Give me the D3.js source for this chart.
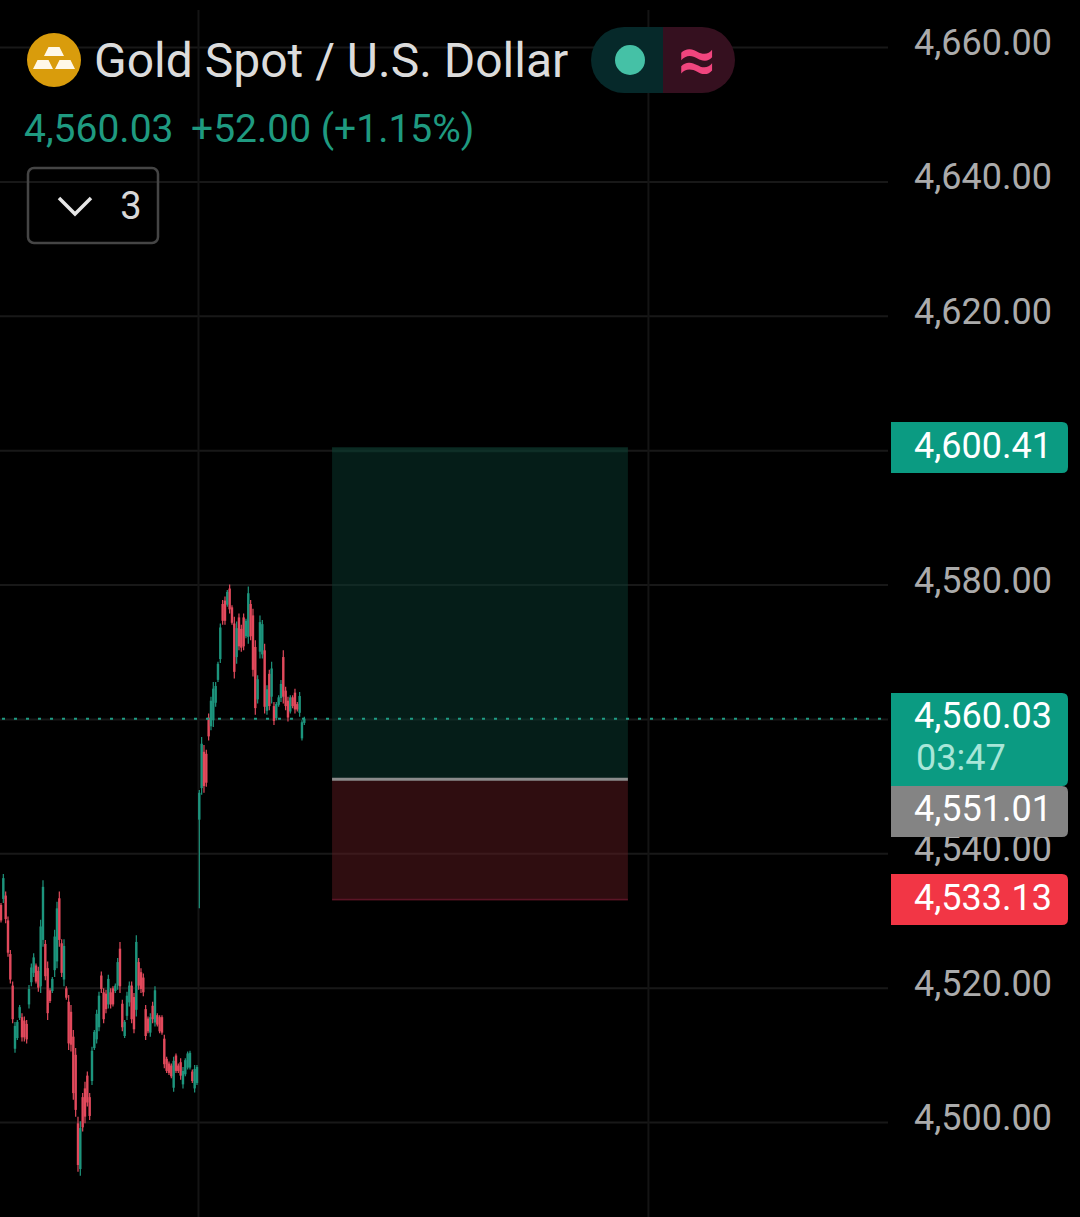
<!DOCTYPE html>
<html><head><meta charset="utf-8">
<style>html,body{margin:0;padding:0;background:#000}svg{display:block}text{font-family:Roboto,sans-serif}</style>
<script src="https://cdn.jsdelivr.net/npm/d3@7"></script></head><body>
<script>
const title="Gold Spot / U.S. Dollar";
const lastPrice="4,560.03", change="+52.00 (+1.15%)", countdown="03:47", hiddenCount="3";
const priceTicks=[4500,4520,4540,4560,4580,4600,4620,4640,4660];
const highs=[4532.6,4536.9,4534.3,4530.6,4525.6,4520.9,4514.9,4515.2,4517.4,4516.2,4515.7,4515.2,4520.4,4523.6,4525.1,4523.6,4523.1,4530.1,4536.0,4527.1,4523.9,4519.9,4521.6,4528.6,4532.8,4534.3,4527.2,4527.2,4520.2,4518.9,4517.4,4513.7,4511.0,4500.8,4500.1,4504.3,4506.0,4507.5,4504.3,4511.2,4513.7,4516.7,4519.4,4522.4,4519.9,4519.7,4521.9,4519.9,4520.2,4520.6,4524.4,4526.8,4518.2,4515.2,4519.4,4520.9,4520.9,4519.2,4527.8,4524.4,4522.9,4522.1,4517.4,4515.7,4516.2,4517.9,4520.2,4516.2,4515.9,4515.9,4513.0,4509.7,4509.0,4508.7,4509.7,4510.2,4508.7,4509.5,4508.2,4509.5,4510.5,4510.6,4507.8,4508.5,4508.5,
4549.4,4557.3,4556.1,4555.4,4560.8,4563.3,4565.5,4565.5,4568.5,4574.2,4577.7,4578.2,4579.2,4580.0,4576.9,4575.2,4574.5,4575.7,4574.0,4575.7,4574.9,4579.7,4577.7,4576.4,4571.7,4566.5,4575.4,4574.7,4571.2,4565.0,4567.3,4568.5,4562.5,4562.5,4563.5,4565.8,4570.2,4564.8,4563.3,4563.5,4563.5,4564.5,4562.5,4564.0,4559.8,4560.3];
const lows=[4529.7,4532.6,4529.6,4524.6,4520.6,4514.7,4510.3,4512.2,4515.2,4512.0,4512.0,4511.7,4516.9,4520.2,4521.6,4520.6,4519.4,4519.2,4526.1,4521.1,4515.2,4517.7,4519.2,4521.6,4522.9,4526.1,4521.6,4520.2,4518.2,4510.7,4510.5,4503.3,4500.8,4492.6,4492.0,4498.6,4499.8,4502.3,4500.3,4505.5,4510.7,4511.7,4513.5,4519.2,4514.7,4516.2,4516.9,4516.9,4517.2,4519.2,4519.7,4519.2,4513.5,4512.5,4515.2,4517.2,4514.7,4513.2,4515.7,4519.7,4519.2,4518.7,4512.2,4513.2,4512.7,4514.7,4514.2,4514.2,4513.2,4513.0,4508.0,4507.3,4507.0,4506.5,4504.5,4507.3,4507.3,4506.3,4505.0,4506.8,4507.8,4507.8,4505.8,4504.4,4505.5,
4531.8,4548.7,4549.0,4549.9,4556.8,4558.3,4558.8,4561.8,4565.5,4568.3,4574.0,4574.0,4576.7,4575.7,4574.0,4566.0,4568.2,4570.2,4570.0,4570.2,4572.0,4571.2,4571.7,4566.3,4560.6,4562.3,4569.0,4569.0,4560.8,4560.6,4561.3,4562.3,4559.1,4559.8,4561.8,4562.5,4562.3,4561.3,4559.6,4560.8,4561.6,4560.8,4561.1,4560.3,4556.8,4559.1];
const opens=[4532.3,4533.2,4533.7,4530.0,4525.0,4520.3,4510.9,4512.5,4515.5,4515.6,4515.1,4514.6,4517.5,4520.8,4522.2,4523.3,4522.5,4520.2,4527.1,4526.5,4522.9,4519.6,4519.5,4522.6,4523.9,4533.3,4526.6,4521.2,4519.9,4517.9,4516.4,4512.7,4510.0,4499.8,4493.0,4503.7,4505.0,4506.9,4503.7,4506.1,4511.0,4512.3,4514.1,4521.8,4519.3,4519.1,4517.5,4519.3,4519.9,4519.5,4520.3,4525.8,4517.6,4512.8,4515.8,4517.8,4520.3,4518.6,4516.7,4523.8,4522.3,4521.5,4516.8,4515.4,4513.3,4517.3,4514.8,4515.9,4515.6,4515.6,4512.4,4509.4,4508.7,4508.4,4505.1,4509.9,4508.4,4508.9,4505.6,4507.1,4508.1,4508.1,4507.5,4505.0,4505.8,
4545.0,4549.7,4555.1,4554.8,4560.2,4558.9,4559.8,4562.4,4565.8,4568.9,4577.1,4577.6,4577.0,4579.4,4576.6,4574.2,4569.2,4575.1,4573.4,4575.1,4572.3,4572.2,4577.1,4575.4,4570.7,4562.9,4570.0,4569.6,4570.2,4561.2,4566.7,4563.3,4561.9,4560.1,4562.1,4563.1,4569.2,4564.2,4562.7,4561.1,4563.2,4563.9,4562.2,4560.9,4557.1,4559.4];
const closes=[4530.0,4536.3,4530.2,4525.2,4521.2,4515.3,4514.3,4514.9,4517.1,4512.6,4512.6,4512.3,4519.8,4523.0,4524.5,4520.9,4520.0,4529.1,4535.0,4521.7,4516.2,4518.0,4521.3,4527.6,4531.8,4527.1,4522.2,4526.2,4518.5,4511.7,4511.5,4504.3,4501.8,4493.6,4499.1,4499.2,4500.8,4502.9,4500.9,4510.6,4513.4,4516.1,4518.8,4519.8,4515.3,4516.8,4521.3,4517.5,4517.5,4520.3,4523.8,4520.2,4514.1,4514.9,4518.8,4520.3,4515.3,4513.8,4526.8,4520.3,4519.8,4519.3,4512.8,4513.5,4515.6,4515.3,4519.6,4514.5,4513.5,4513.3,4508.6,4507.6,4507.3,4506.8,4509.1,4507.6,4507.6,4506.9,4507.6,4509.2,4510.2,4510.3,4506.1,4507.9,4508.2,
4549.0,4556.3,4550.0,4550.5,4557.4,4562.7,4564.5,4564.9,4568.2,4573.6,4574.6,4574.6,4578.9,4576.3,4574.3,4567.0,4573.5,4570.8,4570.6,4570.8,4574.6,4578.7,4572.3,4567.3,4561.6,4565.9,4574.4,4574.1,4561.8,4564.4,4561.9,4567.5,4559.7,4562.2,4563.2,4565.2,4563.3,4561.9,4560.2,4563.2,4561.9,4561.4,4561.4,4563.4,4559.5,4560.03];
const tagPrices=[4600.41,4551.01,4533.13];
const currentPrice=4560.03;
const positionBars=[141.9,268.7];
const positionLevels=[4600.41,4551.01,4533.13];
const sessionBars=[84.65,277.5];

const W=1080,H=1217;
const y=d3.scaleLinear().domain([4500,4660]).range([1122,47]);
const x=d3.scaleLinear().domain([0,130]).range([1,304.3]);
const fmt=d3.format(",.2f");
const GREEN="#1d957d",RED="#e24a5c",AXIS=888;

const svg=d3.select("body").append("svg").attr("width",W).attr("height",H).attr("viewBox",[0,0,W,H]);
svg.append("rect").attr("width",W).attr("height",H).attr("fill","#000");
const defs=svg.append("defs");
defs.append("filter").attr("id","soft").attr("x","-5%").attr("y","-5%").attr("width","110%").attr("height","110%")
  .append("feGaussianBlur").attr("stdDeviation",0.5);

// grid
const axisG=svg.append("g").attr("transform",`translate(${AXIS},0)`)
  .call(d3.axisLeft(y).tickValues(priceTicks).tickSize(AXIS).tickFormat(""));
axisG.select(".domain").remove();
axisG.selectAll("line").attr("stroke","#181818").attr("stroke-width",2);
svg.append("g").selectAll("line").data(sessionBars).join("line")
  .attr("x1",d=>x(d)).attr("x2",d=>x(d)).attr("y1",10).attr("y2",H)
  .attr("stroke","#141414").attr("stroke-width",2);

// position box
const [bx0,bx1]=positionBars.map(x);
const [lvT,lvM,lvB]=positionLevels;
svg.append("rect").attr("x",bx0).attr("width",bx1-bx0).attr("y",y(lvT)).attr("height",y(lvM)-y(lvT)).attr("fill","#0a3a30").attr("opacity",.5);
svg.append("rect").attr("x",bx0).attr("width",bx1-bx0).attr("y",y(lvM)).attr("height",y(lvB)-y(lvM)+1).attr("fill","#5e1a1f").attr("opacity",.5);
svg.append("rect").attr("x",bx0).attr("width",bx1-bx0).attr("y",y(lvT)).attr("height",5).attr("fill","#0f3329").attr("opacity",.6);
svg.append("line").attr("x1",bx0).attr("x2",bx1).attr("y1",y(lvM)).attr("y2",y(lvM)).attr("stroke","#8b8b8b").attr("stroke-width",3);
svg.append("line").attr("x1",bx0).attr("x2",bx1).attr("y1",y(lvB)).attr("y2",y(lvB)).attr("stroke","#5a1526").attr("stroke-width",1.5);

// candles
const idx=d3.range(opens.length);
const cg=svg.append("g").attr("filter","url(#soft)");
const col=i=>closes[i]>=opens[i]?GREEN:RED;
cg.selectAll("line").data(idx).join("line")
  .attr("x1",i=>x(i)).attr("x2",i=>x(i)).attr("y1",i=>y(highs[i])).attr("y2",i=>y(lows[i]))
  .attr("stroke",col).attr("stroke-width",1.2);
cg.selectAll("rect").data(idx).join("rect")
  .attr("x",i=>x(i)-1.2).attr("width",2.4)
  .attr("y",i=>y(Math.max(opens[i],closes[i])))
  .attr("height",i=>Math.max(1,Math.abs(y(opens[i])-y(closes[i]))))
  .attr("fill",col);

// current price line
svg.append("line").attr("x1",0).attr("x2",AXIS).attr("y1",y(currentPrice)).attr("y2",y(currentPrice))
  .attr("stroke","#1f9d85").attr("stroke-width",2).attr("stroke-dasharray","3 9").attr("stroke-dashoffset",-2);

// axis labels
const FS=36;
svg.append("g").selectAll("text").data(priceTicks).join("text")
  .attr("x",1052).attr("y",d=>y(d)+8).attr("text-anchor","end").attr("font-size",FS).attr("fill","#ababab")
  .text(d=>fmt(d));

// tags
function tag(top,h,fill){
  const l=891,r=1068,R=6;
  svg.append("path").attr("d",`M${l},${top}H${r-R}Q${r},${top} ${r},${top+R}V${top+h-R}Q${r},${top+h} ${r-R},${top+h}H${l}Z`).attr("fill",fill);
}
function tagText(s,yy,fill){svg.append("text").attr("x",1052).attr("y",yy).attr("text-anchor","end").attr("font-size",FS).attr("fill",fill).text(s);}
tag(422,51,"#0b9b82");
tagText(fmt(tagPrices[0]),458,"#fff");
tag(693,93,"#0b9b82");
tagText(fmt(currentPrice),728,"#fff");
svg.append("text").attr("x",916).attr("y",770).attr("font-size",FS).attr("fill","#a8e6d8").text(countdown);
tag(786,51,"#848484");
tagText(fmt(tagPrices[1]),821,"#fff");
tag(874,51,"#f23645");
tagText(fmt(tagPrices[2]),910,"#fff");

// header
svg.append("circle").attr("cx",54).attr("cy",60).attr("r",27).attr("fill","#d99c0c");
const bar=(cx,cy)=>`M${cx-5.5},${cy-8}H${cx+5.5}L${cx+10},${cy+1}H${cx-10}Z`;
svg.append("path").attr("d",bar(54,60-5)+bar(43,60+8)+bar(65,60+8)).attr("fill","#fff8e8");
svg.append("text").attr("x",94).attr("y",77).attr("font-size",48).attr("fill","#dcdcdc").text(title);
svg.append("text").attr("x",24).attr("y",142).attr("font-size",39).attr("fill","#1f9a80").text(lastPrice);
svg.append("text").attr("x",191).attr("y",142).attr("font-size",39).attr("fill","#1f9a80").text(change);

// status pill
const px0=591,pm=663,px1=735,pt=27,ph=66,pr=33;
svg.append("path").attr("d",`M${pm},${pt}H${px0+pr}A${pr},${pr} 0 0 0 ${px0+pr},${pt+ph}H${pm}Z`).attr("fill","#06292a");
svg.append("path").attr("d",`M${pm},${pt}H${px1-pr}A${pr},${pr} 0 0 1 ${px1-pr},${pt+ph}H${pm}Z`).attr("fill","#35101f");
svg.append("circle").attr("cx",630).attr("cy",60).attr("r",15).attr("fill","#45c1a6");
svg.append("text").attr("x",697).attr("y",82).attr("text-anchor","middle").attr("font-size",66).attr("font-weight",700).attr("fill","#f0457e").text("≈");

// collapsed indicators button
svg.append("rect").attr("x",28).attr("y",168).attr("width",130).attr("height",75).attr("rx",6).attr("fill","none").attr("stroke","#454545").attr("stroke-width",2.5);
svg.append("path").attr("d","M59,198L75,214L91,198").attr("fill","none").attr("stroke","#e6e6e6").attr("stroke-width",3.5);
svg.append("text").attr("x",131).attr("y",219).attr("text-anchor","middle").attr("font-size",38).attr("fill","#d8d8d8").text(hiddenCount);
</script></body></html>
